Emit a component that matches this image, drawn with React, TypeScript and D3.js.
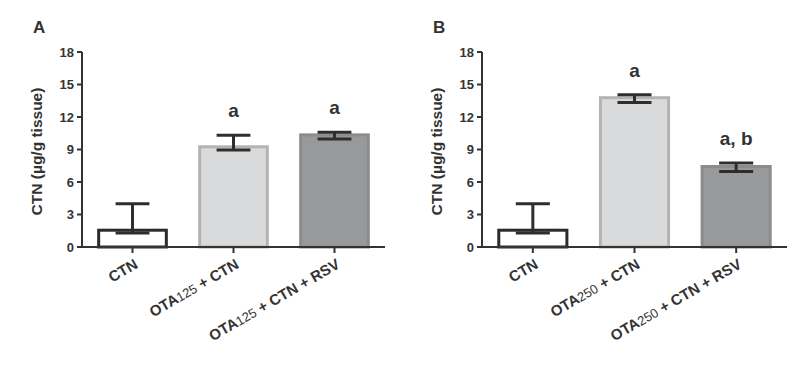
import React from "react";
import * as d3 from "d3";

const groups = ["CTN", "OTA + CTN", "OTA + CTN + RSV"];
const doseA = "125";
const doseB = "250";
const meansA = [1.55, 9.25, 10.35];
const upperA = [4.0, 10.32, 10.6];
const lowerA = [1.3, 8.95, 9.98];
const lettersA = ["", "a", "a"];
const meansB = [1.55, 13.78, 7.43];
const upperB = [4.0, 14.05, 7.75];
const lowerB = [1.3, 13.33, 6.98];
const lettersB = ["", "a", "a, b"];
const yTicks = [0, 3, 6, 9, 12, 15, 18];
const yLabel = "CTN (µg/g tissue)";

const FONT = "'Liberation Sans', Arial, Helvetica, sans-serif";
const TEXT = "#333333";
const fills = ["#ffffff", "#d9dadc", "#98999b"];
const strokes = ["#2b2b2b", "#b3b3b3", "#8c8c8c"];

type PanelProps = {
  ox: number;
  label: string;
  dose: string;
  means: number[];
  upper: number[];
  lower: number[];
  letters: string[];
  xEnd: number;
};

function Panel({ ox, label, dose, means, upper, lower, letters, xEnd }: PanelProps) {
  const axisX = ox + 82;
  const y = d3.scaleLinear().domain([0, 18]).range([247, 52]);
  const x = d3.scaleBand<number>().domain(d3.range(groups.length)).range([axisX, ox + xEnd]).paddingInner(0.33).paddingOuter(0.165);
  const bw = x.bandwidth();
  const cap = bw / 2;
  const center = (i: number) => (x(i) as number) + bw / 2;
  return (
    <g>
      <text x={ox + 33} y={33} fontFamily={FONT} fontWeight="bold" fontSize={17} fill={TEXT}>{label}</text>
      <text transform={`translate(${ox + 42},${y(9) + 2}) rotate(-90)`} textAnchor="middle" fontFamily={FONT} fontWeight="bold" fontSize={15.5} fill={TEXT}>{yLabel}</text>
      {groups.map((g, i) => (
        <rect key={"b" + i} x={x(i)} y={y(means[i])} width={bw} height={y(0) - y(means[i])} fill={fills[i]} stroke={strokes[i]} strokeWidth={3} />
      ))}
      {groups.map((g, i) => (
        <g key={"e" + i} stroke="#2e2e2e" strokeWidth={3}>
          <line x1={center(i)} x2={center(i)} y1={y(upper[i])} y2={y(lower[i])} />
          <line x1={center(i) - cap / 2} x2={center(i) + cap / 2} y1={y(upper[i])} y2={y(upper[i])} />
          <line x1={center(i) - cap / 2} x2={center(i) + cap / 2} y1={y(lower[i])} y2={y(lower[i])} />
        </g>
      ))}
      {letters.map((l, i) => l ? (
        <text key={"l" + i} x={center(i)} y={y(upper[i]) - 18} textAnchor="middle" fontFamily={FONT} fontWeight="bold" fontSize={19} fill={TEXT}>{l}</text>
      ) : null)}
      <line x1={axisX} x2={axisX} y1={y(18)} y2={y(0) + 1} stroke={TEXT} strokeWidth={2} />
      <line x1={axisX - 1} x2={ox + xEnd} y1={y(0)} y2={y(0)} stroke={TEXT} strokeWidth={2} />
      {yTicks.map((t) => (
        <g key={"t" + t}>
          <line x1={axisX - 5} x2={axisX} y1={y(t)} y2={y(t)} stroke={TEXT} strokeWidth={2} />
          <text x={axisX - 8} y={y(t)} dy="0.36em" textAnchor="end" fontFamily={FONT} fontWeight="bold" fontSize={13} fill={TEXT}>{t}</text>
        </g>
      ))}
      {groups.map((g, i) => {
        const parts = g.split("OTA");
        return (
          <g key={"x" + i}>
            <line x1={center(i)} x2={center(i)} y1={y(0)} y2={y(0) + 6} stroke={TEXT} strokeWidth={2} />
            <text transform={`translate(${center(i) + 1},${y(0) + 11}) rotate(-30)`} dy="0.72em" textAnchor="end" fontFamily={FONT} fontWeight="bold" fontSize={15} fill={TEXT}>
              {parts.length > 1 ? (
                <>
                  <tspan>OTA</tspan>
                  <tspan fontWeight="normal" fontSize={13}>{dose}</tspan>
                  <tspan>{parts[1]}</tspan>
                </>
              ) : g}
            </text>
          </g>
        );
      })}
    </g>
  );
}

export default function App() {
  return (
    <svg width={810} height={370} style={{ position: "absolute", left: 0, top: 0, background: "#fff" }}>
      <rect width={810} height={370} fill="#fff" />
      <Panel ox={0} label="A" dose={doseA} means={meansA} upper={upperA} lower={lowerA} letters={lettersA} xEnd={385} />
      <Panel ox={400} label="B" dose={doseB} means={meansB} upper={upperB} lower={lowerB} letters={lettersB} xEnd={387} />
    </svg>
  );
}
